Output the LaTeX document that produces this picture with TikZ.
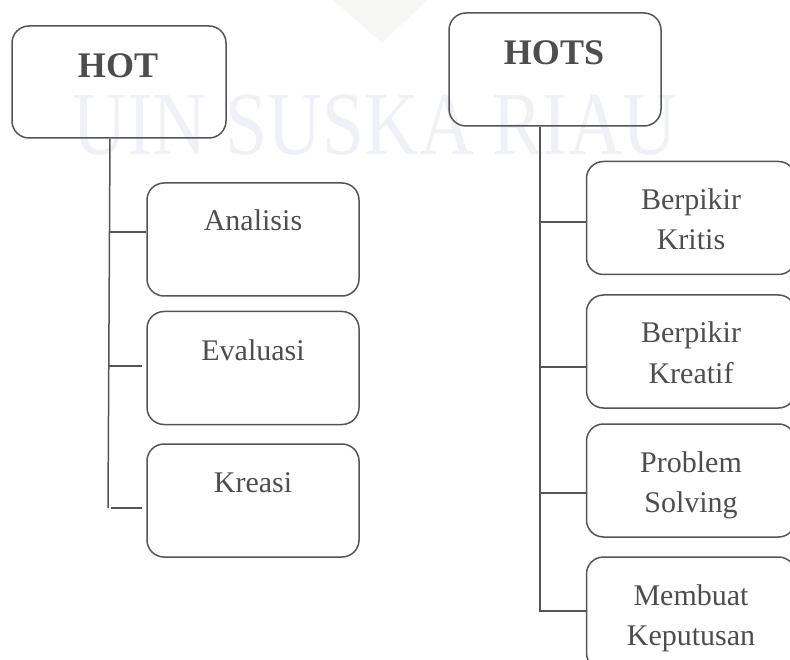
\documentclass[tikz,border=0pt]{standalone}
\usepackage{fontspec}
\setmainfont{Liberation Serif}
\definecolor{ink}{HTML}{4D4D4D}
\definecolor{wline}{HTML}{555555}
\definecolor{wmark}{HTML}{F0F1F6}
\definecolor{wtri}{HTML}{F6F6F4}
\begin{document}
\begin{tikzpicture}[x=1pt,y=-1pt,
  box/.style={draw=wline, line width=1.5pt, rounded corners=17pt, rectangle, minimum width=212pt, minimum height=113pt, inner sep=0pt},
  rbox/.style={box, minimum width=209pt},
  head/.style={anchor=base, text=ink, font=\fontsize{36}{40}\selectfont\bfseries, inner sep=0pt},
  txt/.style={anchor=base, text=ink, font=\fontsize{30}{40}\selectfont, inner sep=0pt},
  link/.style={draw=wline, line width=1.5pt}]
\useasboundingbox (0,0) rectangle (790,660);
\clip (0,0) rectangle (790,660);
% faint watermark
\fill[wtri] (333,0) -- (427,0) -- (382,43) -- cycle;
\node[anchor=base, text=wmark, font=\fontsize{90}{90}\selectfont, xscale=0.84, inner sep=0pt] (wm) at (375,155) {UIN SUSKA RIAU};
% head boxes
\node[box, minimum width=214pt, minimum height=112pt] (hot) at (119,82) {};
\node[head] (hott) at (118,78) {HOT};
\node[box] (hots) at (555,69.5) {};
\node[head] (hotst) at (554,65) {HOTS};
% left children
\node[box] (an) at (253,239.5) {};
\node[txt] (ant) at (253,231) {Analisis};
\node[box] (ev) at (253,368) {};
\node[txt] (evt) at (253,360) {Evaluasi};
\node[box] (kr) at (253,500.5) {};
\node[txt] (krt) at (253,492) {Kreasi};
% right children
\node[rbox] (bk) at (691,218) {};
\node[txt] (bkt1) at (691,210) {Berpikir};
\node[txt] (bkt2) at (691,250) {Kritis};
\node[rbox] (bc) at (691,351.5) {};
\node[txt] (bct1) at (691,343) {Berpikir};
\node[txt] (bct2) at (691,383) {Kreatif};
\node[rbox] (ps) at (691,480.5) {};
\node[txt] (pst1) at (691,472) {Problem};
\node[txt] (pst2) at (691,512) {Solving};
\node[rbox] (mk) at (691,613.5) {};
\node[txt] (mkt1) at (691,605) {Membuat};
\node[txt] (mkt2) at (691,645) {Keputusan};
% left tree
\coordinate (lb) at (108,508);
\coordinate (l1) at (110,232);
\coordinate (l2) at (109,366);
\coordinate (l3) at (111,508);
\draw[link] (hot.south -| l1) -- (lb);
\draw[link] (l1) -- (l1 -| an.west);
\draw[link] (l2) -- ([xshift=-4pt]l2 -| ev.west);
\draw[link] (l3) -- ([xshift=-4pt]l3 -| kr.west);
% right tree
\coordinate (r1) at (540,222);
\coordinate (r2) at (540,367);
\coordinate (r3) at (540,493);
\coordinate (r4) at (540,611);
\draw[link] (hots.south -| r1) -- (r4) -- (r4 -| mk.west);
\draw[link] (r1) -- (r1 -| bk.west);
\draw[link] (r2) -- (r2 -| bc.west);
\draw[link] (r3) -- (r3 -| ps.west);
\end{tikzpicture}
\end{document}
